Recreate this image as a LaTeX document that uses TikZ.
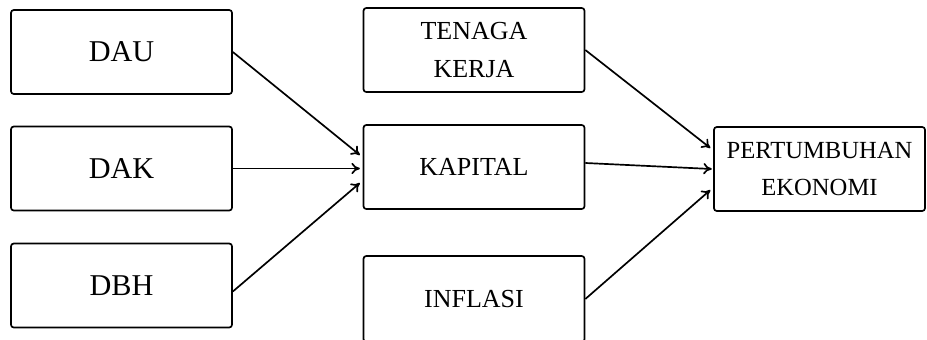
\documentclass[tikz,border=0pt]{standalone}
\usepackage{fontspec}
\setmainfont{Liberation Serif}
\usetikzlibrary{arrows.meta}
\tikzset{
  box/.style={draw, line width=1.2pt, rounded corners=2pt, minimum width=5.525cm,
    minimum height=2.1cm, align=center, inner sep=0pt},
  big/.style={font=\fontsize{21.5}{26}\selectfont},
  mid/.style={font=\fontsize{18.5}{27}\selectfont},
  arr/.style={-{To[length=6pt,width=8pt]}, line width=1.2pt}
}
\begin{document}
\begin{tikzpicture}
          \useasboundingbox (0,0) rectangle (23.175,8.475);

          \node[box,big] (dau) at (3.0375,7.175) {DAU};
          \node[box,big] (dak) at (3.0375,4.2625) {DAK};
          \node[box,big] (dbh) at (3.0375,1.3375) {DBH};

          \node[box,mid] (tenaga) at (11.85,7.225) {TENAGA\\KERJA};
          \node[box,mid] (kapital) at (11.85,4.3) {KAPITAL};
          \node[box,mid,minimum height=2.15cm] (inflasi) at (11.85,1.0) {INFLASI};

          \node[box,minimum width=5.275cm,font=\fontsize{17.5}{26}\selectfont] (ekonomi) at (20.4875,4.25) {PERTUMBUHAN\\EKONOMI};

          \draw[arr] (dau.east) -- ([xshift=-2pt,yshift=0.3cm]kapital.west);
          \draw[arr] (dak.east) -- ([xshift=-2pt]dak.east -| kapital.west);
          \draw[arr] ([yshift=-0.15cm]dbh.east) -- ([xshift=-2pt,yshift=-0.4cm]kapital.west);

          \draw[arr] (tenaga.east) -- ([xshift=-2pt,yshift=0.525cm]ekonomi.west);
          \draw[arr] ([yshift=0.1cm]kapital.east) -- ([xshift=-1pt]ekonomi.west);
          \draw[arr] (inflasi.east) -- ([xshift=-2pt,yshift=-0.525cm]ekonomi.west);
        \end{tikzpicture}
\end{document}
